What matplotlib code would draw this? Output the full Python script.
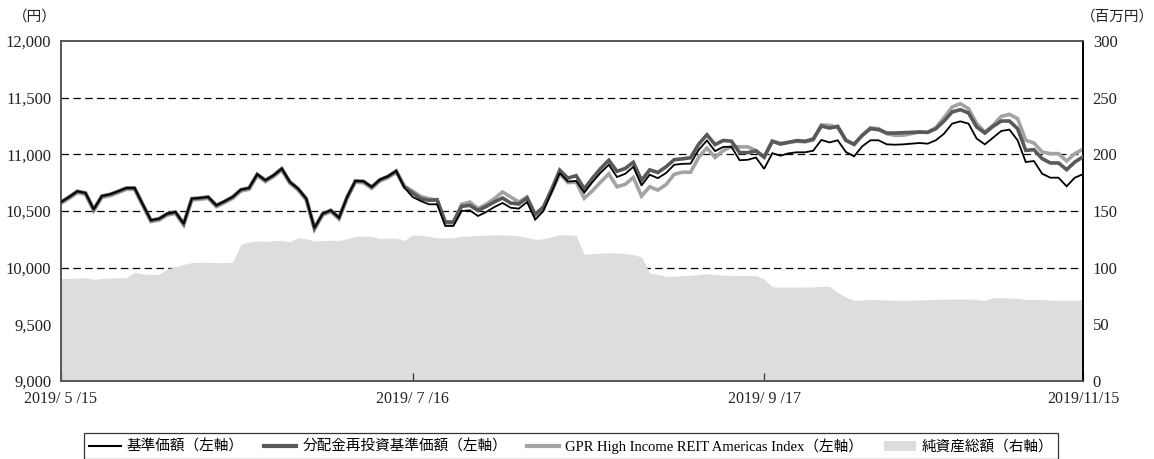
import numpy as np
import pandas as pd
import matplotlib
matplotlib.use("Agg")
import matplotlib.pyplot as plt
from matplotlib.lines import Line2D
from matplotlib.patches import Patch

plt.rcParams['font.family'] = ['Liberation Serif', 'Noto Sans CJK JP', 'DejaVu Sans']

# ---------------- data ----------------
jp_holidays = ["2019-07-15", "2019-08-12", "2019-09-16", "2019-09-23",
               "2019-10-14", "2019-10-22", "2019-11-04"]
dates = pd.bdate_range("2019-05-15", "2019-11-15", freq="C", holidays=jp_holidays)

tick_labels = ["2019/ 5 /15", "2019/ 7 /16", "2019/ 9 /17", "2019/11/15"]
tick_dates = ["2019-05-15", "2019-07-16", "2019-09-17", "2019-11-15"]

nav = [10579, 10624, 10674, 10659, 10515, 10632, 10647, 10674, 10703, 10703,
       10559, 10418, 10432, 10476, 10491, 10388, 10609, 10615, 10624, 10550,
       10585, 10624, 10688, 10703, 10824, 10771, 10815, 10874, 10756, 10697,
       10609, 10350, 10476, 10506, 10441, 10624, 10765, 10762, 10712, 10776,
       10806, 10853, 10706, 10624, 10588, 10559, 10559, 10368, 10368, 10500,
       10506, 10456, 10491, 10535, 10571, 10529, 10521, 10579, 10424, 10500,
       10665, 10835, 10760, 10765, 10662, 10755, 10838, 10908, 10800, 10828,
       10890, 10725, 10820, 10790, 10835, 10908, 10916, 10918, 11040, 11122,
       11028, 11066, 11066, 10948, 10952, 10972, 10872, 11010, 10988, 11009,
       11018, 11018, 11032, 11127, 11105, 11124, 11021, 10982, 11071, 11124,
       11124, 11088, 11085, 11088, 11094, 11100, 11094, 11124, 11182, 11271,
       11291, 11271, 11138, 11088, 11147, 11206, 11218, 11124, 10932, 10941,
       10829, 10794, 10794, 10718, 10794, 10825]

nav_reinvest = [10579, 10624, 10674, 10659, 10515, 10632, 10647, 10674, 10703, 10703,
                10559, 10418, 10432, 10476, 10491, 10388, 10609, 10615, 10624, 10550,
                10585, 10624, 10688, 10703, 10824, 10771, 10815, 10874, 10756, 10697,
                10609, 10350, 10476, 10506, 10441, 10624, 10765, 10762, 10712, 10776,
                10806, 10853, 10712, 10659, 10609, 10594, 10600, 10403, 10403, 10541,
                10550, 10505, 10540, 10580, 10615, 10570, 10562, 10615, 10470, 10535,
                10690, 10860, 10790, 10812, 10695, 10790, 10875, 10948, 10850, 10875,
                10930, 10770, 10863, 10840, 10890, 10953, 10960, 10970, 11090, 11173,
                11086, 11122, 11116, 11015, 11015, 11030, 10975, 11116, 11091, 11106,
                11121, 11115, 11135, 11250, 11232, 11247, 11124, 11088, 11168, 11226,
                11218, 11188, 11188, 11191, 11194, 11197, 11194, 11226, 11294, 11374,
                11394, 11365, 11241, 11188, 11247, 11294, 11294, 11226, 11035, 11041,
                10962, 10924, 10924, 10865, 10932, 10978]

index_vals = [10567, 10612, 10662, 10647, 10503, 10620, 10635, 10662, 10691, 10691,
              10547, 10406, 10420, 10464, 10479, 10376, 10597, 10603, 10612, 10538,
              10573, 10612, 10676, 10691, 10812, 10759, 10803, 10862, 10744, 10685,
              10597, 10338, 10464, 10494, 10429, 10612, 10753, 10750, 10700, 10764,
              10794, 10841, 10720, 10676, 10629, 10609, 10594, 10394, 10394, 10559,
              10579, 10521, 10559, 10609, 10668, 10624, 10579, 10624, 10462, 10521,
              10668, 10829, 10750, 10755, 10612, 10678, 10755, 10828, 10714, 10735,
              10796, 10632, 10714, 10685, 10732, 10824, 10842, 10842, 10975, 11056,
              10972, 11033, 11070, 11066, 11066, 11034, 10975, 11115, 11097, 11106,
              11115, 11110, 11125, 11260, 11256, 11235, 11124, 11088, 11168, 11235,
              11226, 11182, 11168, 11168, 11182, 11197, 11194, 11235, 11324, 11418,
              11447, 11403, 11271, 11197, 11256, 11335, 11353, 11315, 11124, 11100,
              11021, 11006, 11006, 10941, 11006, 11045]

net_assets = [90.3, 90.5, 91.0, 91.0, 89.7, 90.5, 91.0, 91.0, 91.2, 96.0,
              94.5, 94.0, 94.1, 99.0, 100.8, 102.9, 104.5, 104.7, 104.7, 104.5,
              104.4, 104.7, 120.6, 122.6, 123.5, 123.2, 123.8, 124.0, 122.9, 126.5,
              125.6, 123.5, 124.0, 124.1, 124.1, 125.5, 127.6, 127.9, 127.6, 125.6,
              126.0, 126.0, 124.1, 129.0, 128.6, 127.5, 126.5, 126.2, 126.5, 127.8,
              128.0, 128.5, 128.7, 128.9, 129.0, 128.6, 128.0, 126.5, 125.0, 125.6,
              127.2, 129.1, 129.0, 128.5, 111.8, 112.3, 112.8, 113.2, 113.0, 112.4,
              111.5, 109.4, 95.3, 94.0, 92.4, 92.6, 92.9, 93.3, 94.0, 94.7,
              94.0, 93.4, 93.2, 93.2, 93.2, 92.9, 90.0, 83.0, 82.9, 82.9,
              82.9, 82.9, 83.0, 83.5, 83.5, 78.0, 74.0, 71.2, 71.6, 71.8,
              71.8, 71.5, 71.3, 71.2, 71.4, 71.6, 71.8, 72.0, 72.2, 72.4,
              72.4, 72.4, 71.8, 71.2, 73.5, 73.5, 73.2, 73.0, 72.0, 72.0,
              71.8, 71.5, 71.2, 71.2, 71.2, 71.8]

legend_labels = ["基準価額（左軸）", "分配金再投資基準価額（左軸）",
                 "GPR High Income REIT Americas Index（左軸）", "純資産総額（右軸）"]

# ---------------- figure ----------------
W, H = 1154, 459
fig = plt.figure(figsize=(W / 100, H / 100), dpi=100)
L, R, T, B = 61, 1083, 41, 381
axr = fig.add_axes([L / W, 1 - B / H, (R - L) / W, (B - T) / H])
ax = axr.twinx()
ax.set_zorder(axr.get_zorder() + 1)
ax.patch.set_visible(False)
ax.yaxis.tick_left()
axr.yaxis.tick_right()

n = len(nav)
x = np.arange(n)
if len(dates) == n:
    pos = {d.strftime("%Y-%m-%d"): i for i, d in enumerate(dates)}
    tick_pos = [pos[d] for d in tick_dates]
else:
    tick_pos = [0, 43, 86, n - 1]

# right axis: net assets area + dashed grid (behind area)
axr.set_ylim(0, 300)
axr.set_yticks([0, 50, 100, 150, 200, 250, 300])
for gv in [50, 100, 150, 200, 250]:
    axr.axhline(gv, color="black", lw=0.9, ls=(0, (6, 3.5)), zorder=0.5)
axr.fill_between(x, 0, net_assets, color="#dcdddd", lw=0, zorder=1)

# left axis: lines
ax.set_ylim(9000, 12000)
ax.set_yticks([9000, 9500, 10000, 10500, 11000, 11500, 12000])
ax.set_yticklabels(["9,000", "9,500", "10,000", "10,500", "11,000", "11,500", "12,000"])
ax.plot(x, index_vals, color="#a3a3a3", lw=2.6, solid_joinstyle="miter", zorder=2)
ax.plot(x, nav_reinvest, color="#595959", lw=2.6, solid_joinstyle="miter", zorder=3)
ax.plot(x, nav, color="black", lw=1.3, solid_joinstyle="miter", zorder=4)

ax.set_xlim(0, n - 1)
axr.set_xlim(0, n - 1)
axr.set_xticks(tick_pos)
axr.set_xticklabels(tick_labels)
axr.tick_params(axis="x", direction="in", length=6, width=0.9, color="#333333",
                labelsize=11.5, pad=7, labelcolor="#222222")
ax.tick_params(axis="y", length=0, labelsize=12, pad=7, labelcolor="#222222")
axr.tick_params(axis="y", length=0, labelsize=12, pad=7, labelcolor="#222222")

for a in (ax, axr):
    for s in a.spines.values():
        s.set_linewidth(1.2)
        s.set_color("#555555")
    a.spines["right"].set_color("black")

fig.text(35 / W, 1 - 17 / H, "（円）", ha="center", va="center", fontsize=10.5,
         family=["Noto Sans CJK JP"], color="#222222")
fig.text(1117 / W, 1 - 17 / H, "（百万円）", ha="center", va="center", fontsize=10.5,
         family=["Noto Sans CJK JP"], color="#222222")

handles = [Line2D([], [], color="black", lw=1.5),
           Line2D([], [], color="#595959", lw=3),
           Line2D([], [], color="#a3a3a3", lw=3),
           Patch(facecolor="#dcdddd", edgecolor="none")]
leg = fig.legend(handles, legend_labels, ncol=4, loc="upper center",
                 bbox_to_anchor=(571 / W, 1 - 433 / H), frameon=True, fancybox=False,
                 edgecolor="black", fontsize=10.5, handlelength=2.2, handletextpad=0.4,
                 columnspacing=1.4, borderpad=0.35, borderaxespad=0)
leg.get_frame().set_linewidth(0.9)

fig.savefig("out.png", dpi=100)
